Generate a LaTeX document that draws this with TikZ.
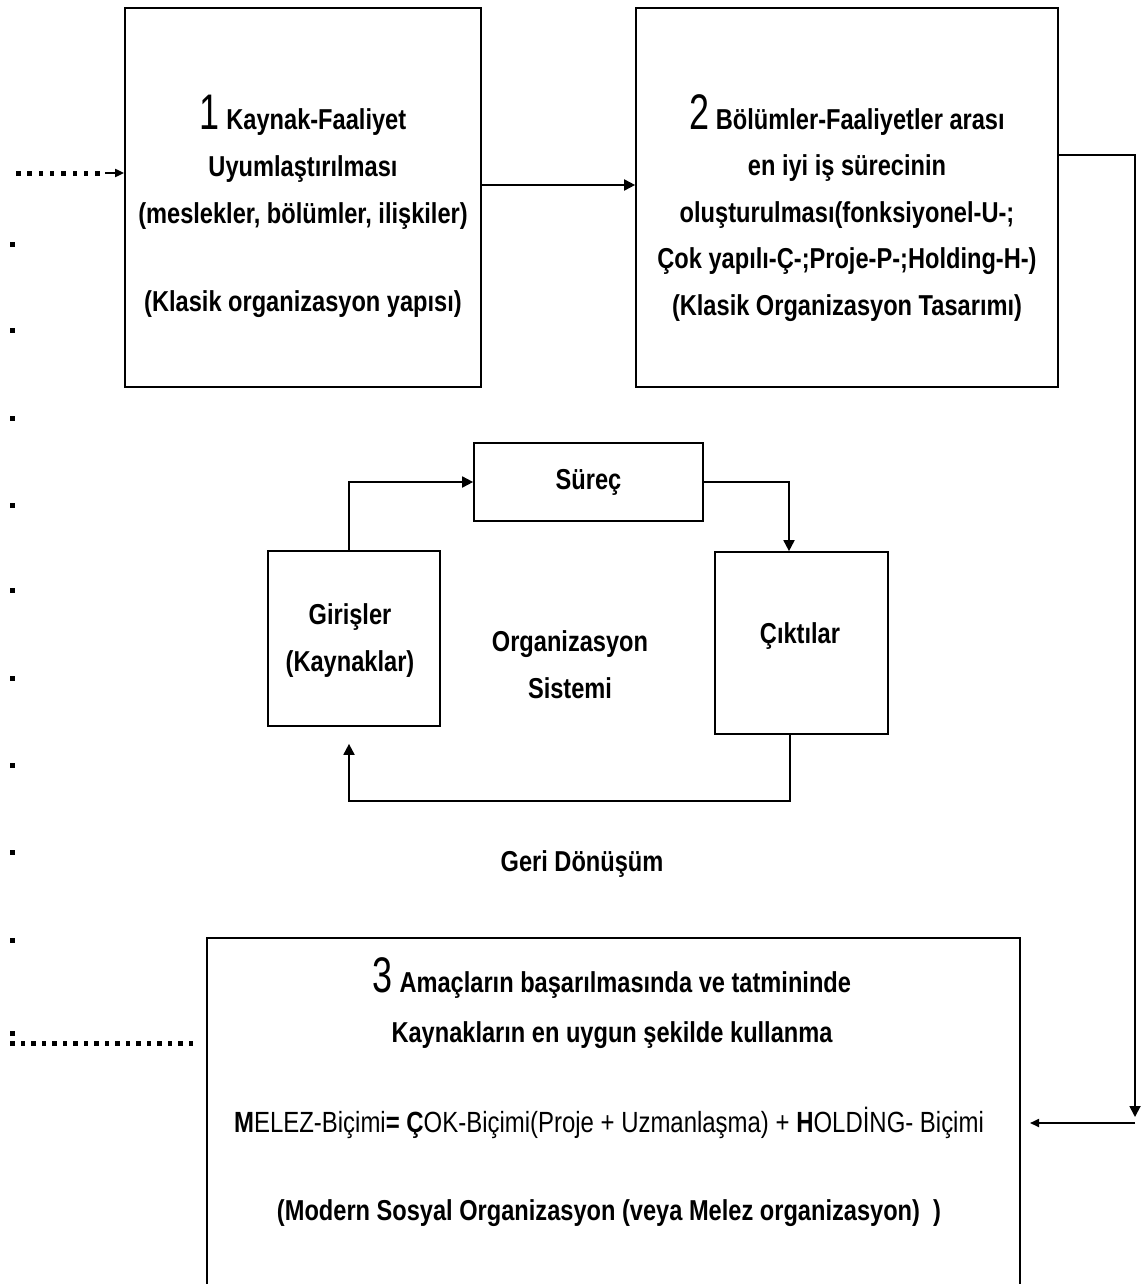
\documentclass[tikz,border=0pt]{standalone}
\usepackage{fontspec}
\setmainfont{Liberation Sans}[FakeStretch=0.82]
\newfontfamily\digitfont{Liberation Sans}[FakeStretch=0.72]
\usetikzlibrary{arrows.meta,fit,calc}

\newcommand{\bignum}[1]{{\digitfont\mdseries\fontsize{25}{25}\selectfont #1}}

\begin{document}
\begin{tikzpicture}[x=0.5pt,y=-0.5pt,
  frame/.style={draw, line width=0.85pt, inner sep=0pt, fit={#1}},
  lbl/.style={font=\fontsize{14.4}{23.5}\selectfont\bfseries, align=center, inner sep=0pt},
  plain/.style={font=\fontsize{14.6}{23.5}\selectfont, align=center, inner sep=0pt},
  conn/.style={line width=0.9pt, -{Triangle[length=5.5pt,width=5.5pt]}},
  thin arrow/.style={line width=0.9pt, -{Triangle[length=4.5pt,width=4pt]}}]

\useasboundingbox (0,0) rectangle (1146,1284);

% --- the three stage boxes
\node[frame={(125,8) (481,387)}] (b1) {};
\node[frame={(636,8) (1058,387)}] (b2) {};
\node[frame={(207,938) (1020,1300)}] (b3) {};

\node[lbl] (t1) at (303,206) {\bignum{1} Kaynak-Faaliyet\\ Uyumlaştırılması\\ (meslekler, bölümler, ilişkiler)\\[20.5pt] (Klasik organizasyon yapısı)};
\node[lbl,font=\fontsize{14.4}{23.25}\selectfont\bfseries] (t2) at (847,208) {\bignum{2} Bölümler-Faaliyetler arası\\ en iyi iş sürecinin\\ oluşturulması(fonksiyonel-U-;\\ Çok yapılı-Ç-;Proje-P-;Holding-H-)\\ (Klasik Organizasyon Tasarımı)};

\node[lbl,font=\fontsize{14.4}{25}\selectfont\bfseries] (t3a) at (612,1003) {\bignum{3} Amaçların başarılmasında ve tatmininde\\ Kaynakların en uygun şekilde kullanma};
\node[plain] (t3b) at (609,1123) {\textbf{M}ELEZ-Biçimi\textbf{= Ç}OK-Biçimi(Proje + Uzmanlaşma) + \textbf{H}OLDİNG- Biçimi};
\node[lbl] (t3c) at (609,1213) {(Modern Sosyal Organizasyon (veya Melez organizasyon) \ )};

% --- organisation system
\node[frame={(474,443) (703,521)}] (sur) {};
\node[lbl] at (sur) {Süreç};
\node[frame={(268,551) (440,726)}] (gir) {};
\node[lbl] at (350,641) {Girişler\\ (Kaynaklar)};
\node[frame={(715,552) (888,734)}] (cik) {};
\node[lbl] at (800,636) {Çıktılar};
\node[lbl] (org) at (570,665) {Organizasyon\\ Sistemi};
\node[lbl] (geri) at (582,864) {Geri Dönüşüm};

\coordinate (fbL) at (349,801);
\draw[conn] ([xshift=-2.5pt]gir.north) |- (sur.west);
\draw[conn] (sur.east) -| ([xshift=-6.25pt]cik.north);
\draw[conn] ([xshift=-5.9pt]cik.south) |- (fbL) -- ([xshift=-2.5pt,yshift=-8.5pt]gir.south);

% --- stage connectors
\draw[conn] ([yshift=6.25pt]b1.east) -- ([yshift=6.25pt]b2.west);
\coordinate (rdown) at (1135,1117);
\draw[conn] ([yshift=21.25pt]b2.east) -| (rdown);
\coordinate (rfrom) at (1135,1123);
\coordinate (rto) at (1030,1123);
\draw[thin arrow] (rfrom) -- (rto);

% --- dotted lead-in at the top left
\foreach \i in {0,...,7} \fill ({16+\i*11.3},171) rectangle +(4.5,4.5);
\coordinate (d0) at (105,173);
\draw[thin arrow] (d0) -- (d0 -| b1.west);

% --- dotted column on the left
\foreach \y in {244,330,418,505,590,678,765,852,940} \fill (10,{\y-2}) rectangle +(4.5,4.5);

% --- dotted line at the bottom left
\fill (10,1031) rectangle +(4.5,4.5);
\foreach \i in {0,...,17} \fill ({10+\i*10.5},1041) rectangle +(4.5,4.5);

\end{tikzpicture}
\end{document}
